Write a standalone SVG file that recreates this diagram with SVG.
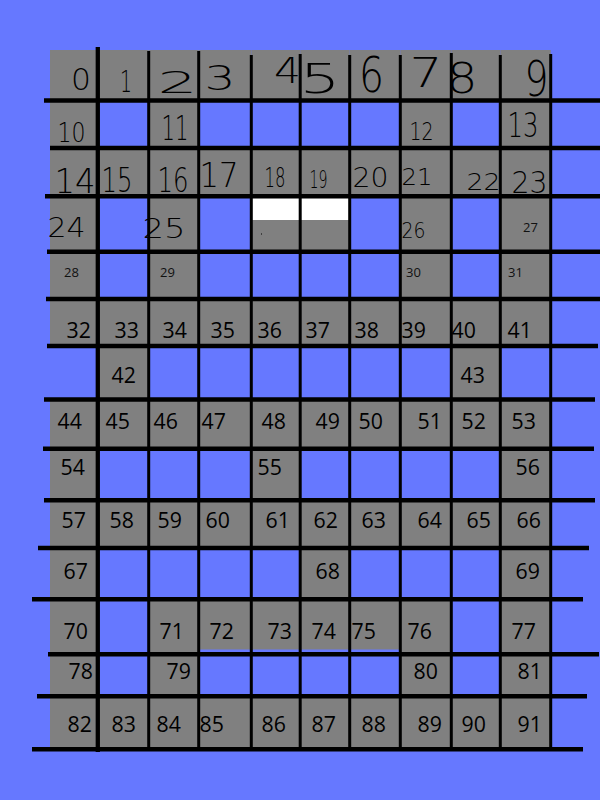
<svg xmlns="http://www.w3.org/2000/svg" width="600" height="800" viewBox="0 0 600 800">
<style>
.g{fill:#808080}
.w{fill:#ffffff}
.ln line{stroke:#000;stroke-linecap:butt}
.h{stroke-width:4.6}
.v{stroke-width:3}
.hw{font-family:"DejaVu Sans",sans-serif;font-weight:200;fill:#000;text-anchor:middle}
.sm{font-family:"Open Sans","Noto Sans",sans-serif;font-size:13px;fill:#111}
.lg{font-family:"Open Sans","Noto Sans",sans-serif;font-size:21.3px;fill:#000}
</style>
<rect width="600" height="800" fill="#6678ff"/>
<g id="cells">
<g id="cell-0"><rect class="g" x="50" y="50" width="47.8" height="50.5"/><text class="hw" x="81" y="90" font-size="31" textLength="20" lengthAdjust="spacingAndGlyphs">0</text></g>
<g id="cell-1"><rect class="g" x="97.8" y="50" width="50.9" height="50.5"/><text class="hw" x="126" y="92" font-size="30" textLength="12" lengthAdjust="spacingAndGlyphs">1</text></g>
<g id="cell-2"><rect class="g" x="148.7" y="50" width="50" height="50.5"/><text class="hw" x="177.5" y="93" font-size="31" textLength="40" lengthAdjust="spacingAndGlyphs">2</text></g>
<g id="cell-3"><rect class="g" x="198.7" y="50" width="52.6" height="50.5"/><text class="hw" x="220" y="90" font-size="34" textLength="31" lengthAdjust="spacingAndGlyphs">3</text></g>
<g id="cell-4"><rect class="g" x="251.3" y="50" width="48.9" height="50.5"/><text class="hw" x="287.5" y="83" font-size="35" textLength="27" lengthAdjust="spacingAndGlyphs">4</text></g>
<g id="cell-5"><rect class="g" x="300.2" y="50" width="49.5" height="50.5"/><text class="hw" x="320" y="93" font-size="41" textLength="41" lengthAdjust="spacingAndGlyphs">5</text></g>
<g id="cell-6"><rect class="g" x="349.7" y="50" width="50.6" height="50.5"/><text class="hw" x="371.5" y="92" font-size="50" textLength="25" lengthAdjust="spacingAndGlyphs">6</text></g>
<g id="cell-7"><rect class="g" x="400.3" y="50" width="51" height="50.5"/><text class="hw" x="426" y="87" font-size="40" textLength="33" lengthAdjust="spacingAndGlyphs">7</text></g>
<g id="cell-8"><rect class="g" x="451.3" y="50" width="49" height="50.5"/><text class="hw" x="462" y="93" font-size="42" textLength="31" lengthAdjust="spacingAndGlyphs">8</text></g>
<g id="cell-9"><rect class="g" x="500.3" y="50" width="50.4" height="50.5"/><text class="hw" x="536.5" y="96" font-size="50" textLength="24" lengthAdjust="spacingAndGlyphs">9</text></g>

<g id="cell-10"><rect class="g" x="50" y="100.5" width="47.8" height="47.5"/><text class="hw" x="71.5" y="142" font-size="27" textLength="28" lengthAdjust="spacingAndGlyphs">10</text></g>
<g id="cell-11"><rect class="g" x="148.7" y="100.5" width="50" height="47.5"/><text class="hw" x="175" y="140" font-size="34" textLength="27" lengthAdjust="spacingAndGlyphs">11</text></g>
<g id="cell-12"><rect class="g" x="400.3" y="100.5" width="51" height="47.5"/><text class="hw" x="421.5" y="140" font-size="25" textLength="24" lengthAdjust="spacingAndGlyphs">12</text></g>
<g id="cell-13"><rect class="g" x="500.3" y="100.5" width="50.4" height="47.5"/><text class="hw" x="523" y="137" font-size="33" textLength="31" lengthAdjust="spacingAndGlyphs">13</text></g>

<g id="cell-14"><rect class="g" x="50" y="148" width="47.8" height="48.2"/><text class="hw" x="75" y="193" font-size="34" textLength="41" lengthAdjust="spacingAndGlyphs">14</text></g>
<g id="cell-15"><rect class="g" x="97.8" y="148" width="50.9" height="48.2"/><text class="hw" x="117" y="192" font-size="33" textLength="31" lengthAdjust="spacingAndGlyphs">15</text></g>
<g id="cell-16"><rect class="g" x="148.7" y="148" width="50" height="48.2"/><text class="hw" x="173" y="192" font-size="34" textLength="31" lengthAdjust="spacingAndGlyphs">16</text></g>
<g id="cell-17"><rect class="g" x="198.7" y="148" width="52.6" height="48.2"/><text class="hw" x="219" y="187" font-size="33" textLength="39" lengthAdjust="spacingAndGlyphs">17</text></g>
<g id="cell-18"><rect class="g" x="251.3" y="148" width="48.9" height="48.2"/><text class="hw" x="275" y="187" font-size="27" textLength="21" lengthAdjust="spacingAndGlyphs">18</text></g>
<g id="cell-19"><rect class="g" x="300.2" y="148" width="49.5" height="48.2"/><text class="hw" x="318.5" y="188" font-size="25" textLength="18" lengthAdjust="spacingAndGlyphs">19</text></g>
<g id="cell-20"><rect class="g" x="349.7" y="148" width="50.6" height="48.2"/><text class="hw" x="370.5" y="187" font-size="26" textLength="36" lengthAdjust="spacingAndGlyphs">20</text></g>
<g id="cell-21"><rect class="g" x="400.3" y="148" width="51" height="48.2"/><text class="hw" x="417" y="185" font-size="23" textLength="31" lengthAdjust="spacingAndGlyphs">21</text></g>
<g id="cell-22"><rect class="g" x="451.3" y="148" width="49" height="48.2"/><text class="hw" x="483.5" y="190" font-size="23" textLength="34" lengthAdjust="spacingAndGlyphs">22</text></g>
<g id="cell-23"><rect class="g" x="500.3" y="148" width="50.4" height="48.2"/><text class="hw" x="529.5" y="193" font-size="31" textLength="36" lengthAdjust="spacingAndGlyphs">23</text></g>

<g id="cell-24"><rect class="g" x="50" y="196.2" width="47.8" height="55.5"/><text class="hw" x="66.5" y="237" font-size="26" textLength="38" lengthAdjust="spacingAndGlyphs">24</text></g>
<g id="cell-25"><rect class="g" x="148.7" y="196.2" width="50" height="55.5"/><text class="hw" x="164" y="238" font-size="27" textLength="43" lengthAdjust="spacingAndGlyphs">25</text></g>
<g id="cell-r3c4"><rect class="g" x="251.3" y="196.2" width="48.9" height="55.5"/><rect class="w" x="251.3" y="196.2" width="48.9" height="23.8"/><rect x="261" y="233.5" width="1" height="1" fill="#000"/></g>
<g id="cell-r3c5"><rect class="g" x="300.2" y="196.2" width="49.5" height="55.5"/><rect class="w" x="300.2" y="196.2" width="49.5" height="23.8"/></g>
<g id="cell-26"><rect class="g" x="400.3" y="196.2" width="51" height="55.5"/><text class="hw" x="413.5" y="238" font-size="22" textLength="24" lengthAdjust="spacingAndGlyphs">26</text></g>
<g id="cell-27"><rect class="g" x="500.3" y="196.2" width="50.4" height="55.5"/><text class="sm" x="523" y="232">27</text></g>

<g id="cell-28"><rect class="g" x="50" y="251.7" width="47.8" height="47.3"/><text class="sm" x="64" y="277">28</text></g>
<g id="cell-29"><rect class="g" x="148.7" y="251.7" width="50" height="47.3"/><text class="sm" x="160" y="277">29</text></g>
<g id="cell-30"><rect class="g" x="400.3" y="251.7" width="51" height="47.3"/><text class="sm" x="406" y="277">30</text></g>
<g id="cell-31"><rect class="g" x="500.3" y="251.7" width="50.4" height="47.3"/><text class="sm" x="508" y="277">31</text></g>

<g id="cell-32"><rect class="g" x="50" y="299" width="47.8" height="47"/><text class="lg" x="66.5" y="338">32</text></g>
<g id="cell-33"><rect class="g" x="97.8" y="299" width="50.9" height="47"/><text class="lg" x="114.5" y="338">33</text></g>
<g id="cell-34"><rect class="g" x="148.7" y="299" width="50" height="47"/><text class="lg" x="162.5" y="338">34</text></g>
<g id="cell-35"><rect class="g" x="198.7" y="299" width="52.6" height="47"/><text class="lg" x="210.5" y="338">35</text></g>
<g id="cell-36"><rect class="g" x="251.3" y="299" width="48.9" height="47"/><text class="lg" x="257.5" y="338">36</text></g>
<g id="cell-37"><rect class="g" x="300.2" y="299" width="49.5" height="47"/><text class="lg" x="305.5" y="338">37</text></g>
<g id="cell-38"><rect class="g" x="349.7" y="299" width="50.6" height="47"/><text class="lg" x="354.5" y="338">38</text></g>
<g id="cell-39"><rect class="g" x="400.3" y="299" width="51" height="47"/><text class="lg" x="401.5" y="338">39</text></g>
<g id="cell-40"><rect class="g" x="451.3" y="299" width="49" height="47"/><text class="lg" x="451.5" y="338">40</text></g>
<g id="cell-41"><rect class="g" x="500.3" y="299" width="50.4" height="47"/><text class="lg" x="507.5" y="338">41</text></g>

<g id="cell-42"><rect class="g" x="97.8" y="346" width="50.9" height="53.5"/><text class="lg" x="111.5" y="383">42</text></g>
<g id="cell-43"><rect class="g" x="451.3" y="346" width="49" height="53.5"/><text class="lg" x="460.5" y="383">43</text></g>

<g id="cell-44"><rect class="g" x="50" y="399.5" width="47.8" height="49.2"/><text class="lg" x="57.5" y="429">44</text></g>
<g id="cell-45"><rect class="g" x="97.8" y="399.5" width="50.9" height="49.2"/><text class="lg" x="105.5" y="429">45</text></g>
<g id="cell-46"><rect class="g" x="148.7" y="399.5" width="50" height="49.2"/><text class="lg" x="153.5" y="429">46</text></g>
<g id="cell-47"><rect class="g" x="198.7" y="399.5" width="52.6" height="49.2"/><text class="lg" x="201.5" y="429">47</text></g>
<g id="cell-48"><rect class="g" x="251.3" y="399.5" width="48.9" height="49.2"/><text class="lg" x="261.5" y="429">48</text></g>
<g id="cell-49"><rect class="g" x="300.2" y="399.5" width="49.5" height="49.2"/><text class="lg" x="315.5" y="429">49</text></g>
<g id="cell-50"><rect class="g" x="349.7" y="399.5" width="50.6" height="49.2"/><text class="lg" x="358.5" y="429">50</text></g>
<g id="cell-51"><rect class="g" x="400.3" y="399.5" width="51" height="49.2"/><text class="lg" x="417.5" y="429">51</text></g>
<g id="cell-52"><rect class="g" x="451.3" y="399.5" width="49" height="49.2"/><text class="lg" x="461.5" y="429">52</text></g>
<g id="cell-53"><rect class="g" x="500.3" y="399.5" width="50.4" height="49.2"/><text class="lg" x="511.5" y="429">53</text></g>

<g id="cell-54"><rect class="g" x="50" y="448.7" width="47.8" height="51.6"/><text class="lg" x="60.5" y="475">54</text></g>
<g id="cell-55"><rect class="g" x="251.3" y="448.7" width="48.9" height="51.6"/><text class="lg" x="257.5" y="475">55</text></g>
<g id="cell-56"><rect class="g" x="500.3" y="448.7" width="50.4" height="51.6"/><text class="lg" x="515.5" y="475">56</text></g>

<g id="cell-57"><rect class="g" x="50" y="500.3" width="47.8" height="47.7"/><text class="lg" x="61.5" y="528">57</text></g>
<g id="cell-58"><rect class="g" x="97.8" y="500.3" width="50.9" height="47.7"/><text class="lg" x="109.5" y="528">58</text></g>
<g id="cell-59"><rect class="g" x="148.7" y="500.3" width="50" height="47.7"/><text class="lg" x="157.5" y="528">59</text></g>
<g id="cell-60"><rect class="g" x="198.7" y="500.3" width="52.6" height="47.7"/><text class="lg" x="205.5" y="528">60</text></g>
<g id="cell-61"><rect class="g" x="251.3" y="500.3" width="48.9" height="47.7"/><text class="lg" x="265.5" y="528">61</text></g>
<g id="cell-62"><rect class="g" x="300.2" y="500.3" width="49.5" height="47.7"/><text class="lg" x="313.5" y="528">62</text></g>
<g id="cell-63"><rect class="g" x="349.7" y="500.3" width="50.6" height="47.7"/><text class="lg" x="361.5" y="528">63</text></g>
<g id="cell-64"><rect class="g" x="400.3" y="500.3" width="51" height="47.7"/><text class="lg" x="417.5" y="528">64</text></g>
<g id="cell-65"><rect class="g" x="451.3" y="500.3" width="49" height="47.7"/><text class="lg" x="466.5" y="528">65</text></g>
<g id="cell-66"><rect class="g" x="500.3" y="500.3" width="50.4" height="47.7"/><text class="lg" x="516.5" y="528">66</text></g>

<g id="cell-67"><rect class="g" x="50" y="548" width="47.8" height="51.3"/><text class="lg" x="63.5" y="579">67</text></g>
<g id="cell-68"><rect class="g" x="300.2" y="548" width="49.5" height="51.3"/><text class="lg" x="315.5" y="579">68</text></g>
<g id="cell-69"><rect class="g" x="500.3" y="548" width="50.4" height="51.3"/><text class="lg" x="515.5" y="579">69</text></g>

<g id="cell-70"><rect class="g" x="50" y="599.3" width="47.8" height="54.9"/><text class="lg" x="63.5" y="639">70</text></g>
<g id="cell-71"><rect class="g" x="148.7" y="599.3" width="50" height="54.9"/><text class="lg" x="159.5" y="639">71</text></g>
<g id="cell-72"><rect class="g" x="198.7" y="599.3" width="52.6" height="50.2"/><text class="lg" x="209.5" y="639">72</text></g>
<g id="cell-73"><rect class="g" x="251.3" y="599.3" width="48.9" height="50.2"/><text class="lg" x="267.5" y="639">73</text></g>
<g id="cell-74"><rect class="g" x="300.2" y="599.3" width="49.5" height="50.2"/><text class="lg" x="311.5" y="639">74</text></g>
<g id="cell-75"><rect class="g" x="349.7" y="599.3" width="50.6" height="50.2"/><text class="lg" x="351.5" y="639">75</text></g>
<g id="cell-76"><rect class="g" x="400.3" y="599.3" width="51" height="54.9"/><text class="lg" x="407.5" y="639">76</text></g>
<g id="cell-77"><rect class="g" x="500.3" y="599.3" width="50.4" height="54.9"/><text class="lg" x="511.5" y="639">77</text></g>

<g id="cell-78"><rect class="g" x="50" y="654.2" width="47.8" height="42.1"/><text class="lg" x="68.5" y="679">78</text></g>
<g id="cell-79"><rect class="g" x="148.7" y="654.2" width="50" height="42.1"/><text class="lg" x="166.5" y="679">79</text></g>
<g id="cell-80"><rect class="g" x="400.3" y="654.2" width="51" height="42.1"/><text class="lg" x="413.5" y="679">80</text></g>
<g id="cell-81"><rect class="g" x="500.3" y="654.2" width="50.4" height="42.1"/><text class="lg" x="517.5" y="679">81</text></g>

<g id="cell-82"><rect class="g" x="50" y="696.3" width="47.8" height="52.9"/><text class="lg" x="67.5" y="732">82</text></g>
<g id="cell-83"><rect class="g" x="97.8" y="696.3" width="50.9" height="52.9"/><text class="lg" x="111.5" y="732">83</text></g>
<g id="cell-84"><rect class="g" x="148.7" y="696.3" width="50" height="52.9"/><text class="lg" x="156.5" y="732">84</text></g>
<g id="cell-85"><rect class="g" x="198.7" y="696.3" width="52.6" height="52.9"/><text class="lg" x="199.5" y="732">85</text></g>
<g id="cell-86"><rect class="g" x="251.3" y="696.3" width="48.9" height="52.9"/><text class="lg" x="261.5" y="732">86</text></g>
<g id="cell-87"><rect class="g" x="300.2" y="696.3" width="49.5" height="52.9"/><text class="lg" x="311.5" y="732">87</text></g>
<g id="cell-88"><rect class="g" x="349.7" y="696.3" width="50.6" height="52.9"/><text class="lg" x="361.5" y="732">88</text></g>
<g id="cell-89"><rect class="g" x="400.3" y="696.3" width="51" height="52.9"/><text class="lg" x="417.5" y="732">89</text></g>
<g id="cell-90"><rect class="g" x="451.3" y="696.3" width="49" height="52.9"/><text class="lg" x="461.5" y="732">90</text></g>
<g id="cell-91"><rect class="g" x="500.3" y="696.3" width="50.4" height="52.9"/><text class="lg" x="517.5" y="732">91</text></g>
</g>
<g id="grid-lines" class="ln">
<line class="v" x1="97.8" y1="47" x2="97.8" y2="752" style="stroke-width:4.3"/>
<line class="v" x1="148.7" y1="51" x2="148.7" y2="751"/>
<line class="v" x1="198.7" y1="51" x2="198.7" y2="751"/>
<line class="v" x1="251.3" y1="55" x2="251.3" y2="751"/>
<line class="v" x1="300.2" y1="54" x2="300.2" y2="751"/>
<line class="v" x1="349.7" y1="55" x2="349.7" y2="751"/>
<line class="v" x1="400.3" y1="55" x2="400.3" y2="751"/>
<line class="v" x1="451.3" y1="53" x2="451.3" y2="751"/>
<line class="v" x1="500.3" y1="55" x2="500.3" y2="751"/>
<line class="v" x1="550.7" y1="54" x2="550.7" y2="747"/>
<line class="h" x1="44" y1="100.5" x2="600" y2="100.5"/>
<line class="h" x1="50" y1="148" x2="600" y2="148"/>
<line class="h" x1="45" y1="196.2" x2="600" y2="196.2"/>
<line class="h" x1="47" y1="251.7" x2="600" y2="251.7"/>
<line class="h" x1="46" y1="299" x2="600" y2="299"/>
<line class="h" x1="47" y1="346" x2="598" y2="346"/>
<line class="h" x1="44" y1="399.5" x2="595" y2="399.5"/>
<line class="h" x1="43" y1="448.7" x2="594" y2="448.7"/>
<line class="h" x1="44" y1="500.3" x2="595" y2="500.3"/>
<line class="h" x1="38" y1="548" x2="589" y2="548"/>
<line class="h" x1="32" y1="599.3" x2="583" y2="599.3"/>
<line class="h" x1="48" y1="654.2" x2="599" y2="654.2"/>
<line class="h" x1="37" y1="696.3" x2="587" y2="696.3"/>
<line class="h" x1="32" y1="749.2" x2="583" y2="749.2"/>
</g>
</svg>
